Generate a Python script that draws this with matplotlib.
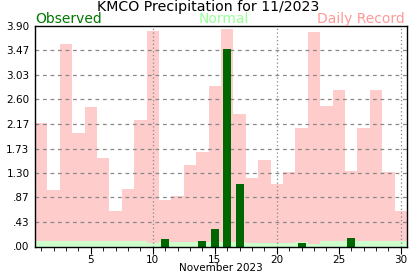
import numpy as np
import matplotlib.pyplot as plt
from matplotlib.ticker import FixedLocator, MultipleLocator

days = np.arange(1, 31)
record = [2.18, 1.00, 3.58, 2.01, 2.47, 1.57, 0.63, 1.02, 2.23, 3.81,
          0.83, 0.90, 1.44, 1.67, 2.84, 3.85, 2.34, 1.21, 1.53, 1.11,
          1.32, 2.10, 3.79, 2.49, 2.77, 1.34, 2.10, 2.77, 1.32, 0.63]
normal = [0.09, 0.09, 0.09, 0.09, 0.09, 0.09, 0.09, 0.09, 0.09, 0.07,
          0.08, 0.08, 0.08, 0.08, 0.08, 0.08, 0.08, 0.07, 0.07, 0.07,
          0.07, 0.08, 0.05, 0.10, 0.10, 0.10, 0.10, 0.10, 0.10, 0.10]
observed = [0, 0, 0, 0, 0, 0, 0, 0, 0, 0,
            0.14, 0, 0, 0.09, 0.31, 3.49, 1.10, 0, 0, 0,
            0, 0.06, 0, 0, 0, 0.15, 0, 0, 0, 0]
yticks = [0, 0.43, 0.87, 1.30, 1.73, 2.17, 2.60, 3.03, 3.47, 3.90]
ylabels = ['.00', '.43', '.87', '1.30', '1.73', '2.17', '2.60', '3.03', '3.47', '3.90']

fig = plt.figure(figsize=(4.17, 2.76), dpi=100)
ax = fig.add_axes([35 / 417, 1 - 246.5 / 276, 372 / 417, 220.5 / 276])

ax.bar(days, record, width=1.0, color='#ffcccc', zorder=1)
ax.bar(days, normal, width=1.0, color='#ccffcc', zorder=2)
for y in yticks[1:-1]:
    ax.axhline(y, color='#888888', ls=(0, (3, 3)), lw=0.9, zorder=3)
for x in [10, 20, 30]:
    ax.axvline(x, color='#888888', ls=(0, (1, 2)), lw=0.9, zorder=3)
ax.bar(days, observed, width=0.65, color='#006600', zorder=4)

ax.set_xlim(0.5, 30.5)
ax.set_ylim(0, 3.9)
ax.yaxis.set_major_locator(FixedLocator(yticks))
ax.set_yticklabels(ylabels, fontsize=7.5)
ax.tick_params(axis='y', length=0, pad=4)
ax.xaxis.set_major_locator(FixedLocator([5, 10, 15, 20, 25, 30]))
ax.xaxis.set_minor_locator(MultipleLocator(1))
ax.tick_params(axis='x', which='major', length=5, labelsize=7.5, pad=1)
ax.tick_params(axis='x', which='minor', length=3)
ax.set_xlabel('November 2023', fontsize=7.5, labelpad=-1)
for s in ax.spines.values():
    s.set_linewidth(1.0)
    s.set_zorder(5)

fig.text(0.5, 1 - 7.5 / 276, 'KMCO Precipitation for 11/2023', ha='center', va='center', fontsize=10.2)
fig.text(35 / 417, 1 - 19 / 276, 'Observed', ha='left', va='center', fontsize=10, color='#007700')
fig.text(224 / 417, 1 - 19 / 276, 'Normal', ha='center', va='center', fontsize=10, color='#99ff99')
fig.text(405 / 417, 1 - 19 / 276, 'Daily Record', ha='right', va='center', fontsize=10, color='#ff9999')

fig.savefig('out.png', dpi=100)
